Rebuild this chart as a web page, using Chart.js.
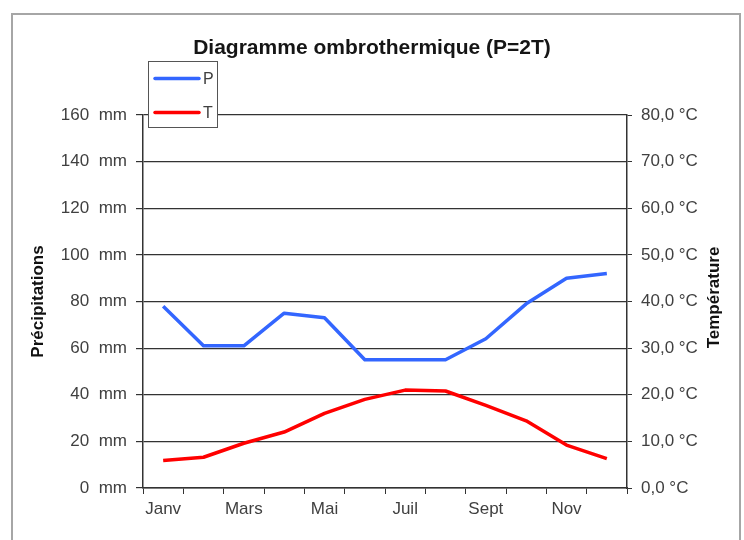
<!DOCTYPE html>
<html>
<head>
<meta charset="utf-8">
<script src="https://cdn.jsdelivr.net/npm/chart.js@4/dist/chart.umd.min.js"></script>
<style>
  html, body { margin: 0; padding: 0; background: #ffffff; }
  #wrap { width: 744px; height: 540px; position: relative; }
</style>
</head>
<body>
<div id="wrap"><canvas id="c" width="744" height="540"></canvas></div>
<script>
// ---- Data ----
const months = ['Janv', 'Févr', 'Mars', 'Avr', 'Mai', 'Juin', 'Juil', 'Août', 'Sept', 'Oct', 'Nov', 'Déc'];
const precipitation = [78, 61, 61, 75, 73, 55, 55, 55, 64, 79, 90, 92];     // mm
const temperature = [5.9, 6.6, 9.6, 12.0, 16.0, 19.0, 21.0, 20.8, 17.7, 14.4, 9.2, 6.3]; // °C
const precipTicks = [0, 20, 40, 60, 80, 100, 120, 140, 160];
const tempTicks = [0, 10, 20, 30, 40, 50, 60, 70, 80];
const titleText = 'Diagramme ombrothermique (P=2T)';
const leftTitle = 'Précipitations';
const rightTitle = 'Température';
const seriesNames = ['P', 'T'];

const FONT = "'Liberation Sans', Arial, sans-serif";
const GRID = '#333333';
const TICKC = '#404040';

const decorPlugin = {
  id: 'decor',
  beforeDraw(chart) {
    const ctx = chart.ctx;
    ctx.save();
    ctx.fillStyle = '#ffffff';
    ctx.fillRect(0, 0, chart.width, chart.height);
    ctx.strokeStyle = '#a6a6a6';
    ctx.lineWidth = 2;
    ctx.strokeRect(12, 14, 728, 600);
    ctx.restore();
  },
  afterDraw(chart) {
    const ctx = chart.ctx;
    const area = chart.chartArea;
    ctx.save();
    // right axis title, reading bottom-to-top
    ctx.font = 'bold 17px ' + FONT;
    ctx.fillStyle = '#111111';
    ctx.textAlign = 'center';
    ctx.textBaseline = 'middle';
    ctx.translate(714, (area.top + area.bottom) / 2 - 4);
    ctx.rotate(-Math.PI / 2);
    ctx.fillText(rightTitle, 0, 0);
    ctx.restore();

    // legend box
    ctx.save();
    const bx = 148.5, by = 61.5, bw = 69, bh = 66;
    ctx.fillStyle = '#ffffff';
    ctx.fillRect(bx, by, bw, bh);
    ctx.strokeStyle = '#555555';
    ctx.lineWidth = 1;
    ctx.strokeRect(bx, by, bw, bh);
    const rows = [78.5, 112.5];
    chart.data.datasets.forEach((ds, i) => {
      ctx.strokeStyle = ds.borderColor;
      ctx.lineWidth = 3.5;
      ctx.lineCap = 'round';
      ctx.beginPath();
      ctx.moveTo(155, rows[i]);
      ctx.lineTo(199, rows[i]);
      ctx.stroke();
      ctx.fillStyle = TICKC;
      ctx.font = '16px ' + FONT;
      ctx.textAlign = 'left';
      ctx.textBaseline = 'middle';
      ctx.fillText(ds.label, 203, rows[i] + 1);
    });
    ctx.restore();
  }
};

new Chart(document.getElementById('c'), {
  type: 'line',
  data: {
    labels: months,
    datasets: [
      {
        label: seriesNames[0],
        data: precipitation,
        yAxisID: 'y',
        borderColor: '#3366ff',
        backgroundColor: '#3366ff',
        borderWidth: 3.5,
        pointRadius: 0,
        tension: 0,
        borderJoinStyle: 'round'
      },
      {
        label: seriesNames[1],
        data: temperature,
        yAxisID: 'y1',
        borderColor: '#ff0000',
        backgroundColor: '#ff0000',
        borderWidth: 3.5,
        pointRadius: 0,
        tension: 0,
        borderJoinStyle: 'round'
      }
    ]
  },
  options: {
    responsive: false,
    animation: false,
    devicePixelRatio: 1,
    layout: { padding: 0 },
    plugins: {
      legend: { display: false },
      tooltip: { enabled: false },
      title: {
        display: true,
        text: titleText,
        color: '#151515',
        font: { family: FONT, size: 21, weight: 'bold' },
        padding: { top: 36, bottom: 53.8 }
      }
    },
    scales: {
      x: {
        type: 'category',
        offset: true,
        grid: {
          offset: true,
          drawOnChartArea: false,
          drawTicks: true,
          tickLength: 6,
          color: GRID,
          lineWidth: 1
        },
        border: { display: true, color: GRID, width: 1.5 },
        ticks: {
          autoSkip: false,
          maxRotation: 0,
          padding: 5,
          color: TICKC,
          font: { family: FONT, size: 17 },
          callback: function (val, idx) { return idx % 2 === 0 ? this.getLabelForValue(val) : ''; }
        },
        afterFit(scale) { scale.height = 52; }
      },
      y: {
        position: 'left',
        min: 0,
        max: 160,
        afterBuildTicks(scale) { scale.ticks = precipTicks.map(v => ({ value: v })); },
        grid: { color: GRID, lineWidth: 1.2, tickLength: 7 },
        border: { display: true, color: GRID, width: 1.5 },
        ticks: {
          padding: 9,
          color: TICKC,
          font: { family: FONT, size: 17 },
          callback: v => v + '  mm'
        },
        title: {
          display: true,
          text: leftTitle,
          color: '#111111',
          font: { family: FONT, size: 17, weight: 'bold' },
          padding: { top: 28, bottom: 0 }
        },
        afterFit(scale) { scale.width = 143; }
      },
      y1: {
        position: 'right',
        min: 0,
        max: 80,
        afterBuildTicks(scale) { scale.ticks = tempTicks.map(v => ({ value: v })); },
        grid: { drawOnChartArea: false, color: GRID, lineWidth: 1, tickLength: 5 },
        border: { display: true, color: GRID, width: 1.5 },
        ticks: {
          padding: 9,
          color: TICKC,
          font: { family: FONT, size: 17 },
          callback: v => v.toFixed(1).replace('.', ',') + ' °C'
        },
        afterFit(scale) { scale.width = 117; }
      }
    }
  },
  plugins: [decorPlugin]
});
</script>
</body>
</html>
